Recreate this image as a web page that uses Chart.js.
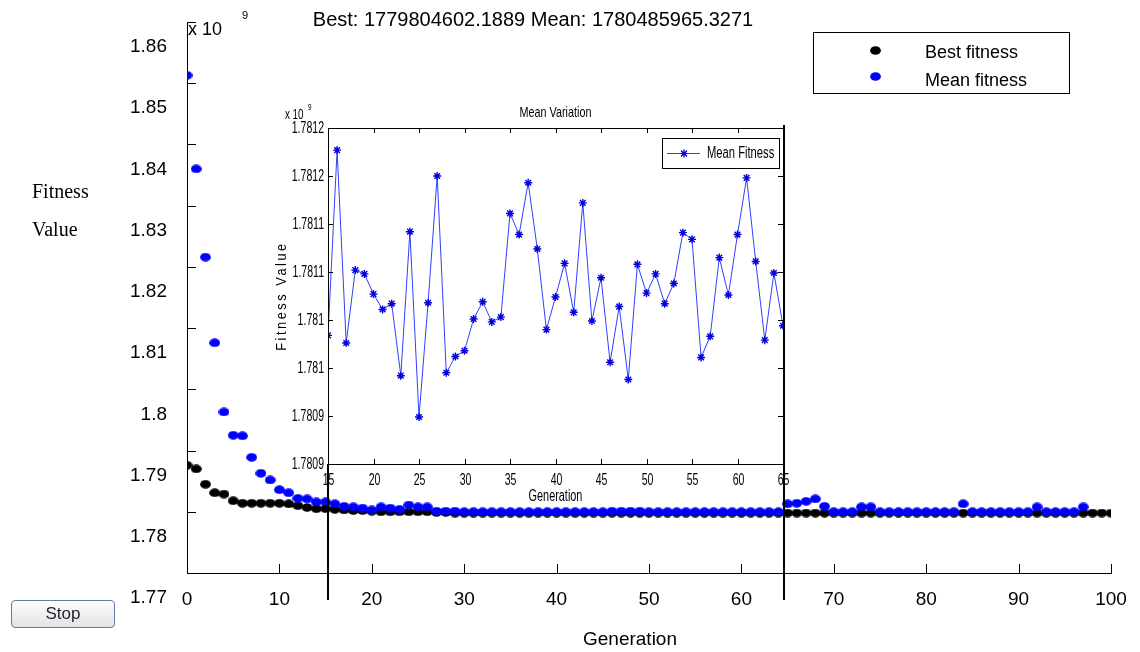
<!DOCTYPE html>
<html>
<head>
<meta charset="utf-8">
<script src="https://cdn.jsdelivr.net/npm/chart.js@4.4.1/dist/chart.umd.min.js"></script>
<style>
    body { margin: 0; background: #fff; }
    #wrap { position: relative; width: 1140px; height: 652px; overflow: hidden; }
    #main { position: absolute; left: 0; top: 0; }
    #inset { position: absolute; left: 260px; top: 100px; }
    #stop {
        position: absolute; left: 11px; top: 600px; width: 104px; height: 28px;
        border: 1px solid #5b7fa9; border-radius: 4px; padding: 0;
        background: linear-gradient(#fefefe, #e2e2e2);
        font: 17px 'Liberation Sans', Arial, sans-serif; color: #2a2030;
    }
</style>
</head>
<body>
<div id="wrap">
    <canvas id="main" width="1140" height="652"></canvas>
    <canvas id="inset" width="535" height="505"></canvas>
    <button id="stop">Stop</button>
</div>
<script>
'use strict';

//MAIN PLOT DATA (values in units of 10^9)
let titleText = 'Best: 1779804602.1889 Mean: 1780485965.3271';
let firstGeneration = 0;
let bestFitness = [
    1.7876, 1.7870, 1.7845, 1.7831, 1.7829, 1.7818, 1.7814, 1.7814, 1.7814, 1.7814,
    1.7814, 1.7813, 1.7810, 1.7807, 1.7805, 1.7805, 1.7804, 1.7803, 1.7802, 1.7802,
    1.7801, 1.7800, 1.7800, 1.7800, 1.7800, 1.7800, 1.7800, 1.7799, 1.7799, 1.7798,
    1.7798, 1.7798, 1.7798, 1.7798, 1.7798, 1.7798, 1.7798, 1.7798, 1.7798, 1.7798,
    1.7798, 1.7798, 1.7798, 1.7798, 1.7798, 1.7798, 1.7798, 1.7798, 1.7798, 1.7798,
    1.7798, 1.7798, 1.7798, 1.7798, 1.7798, 1.7798, 1.7798, 1.7798, 1.7798, 1.7798,
    1.7798, 1.7798, 1.7798, 1.7798, 1.7798, 1.7798, 1.7798, 1.7798, 1.7798, 1.7798,
    1.7798, 1.7798, 1.7798, 1.7798, 1.7798, 1.7798, 1.7798, 1.7798, 1.7798, 1.7798,
    1.7798, 1.7798, 1.7798, 1.7798, 1.7798, 1.7798, 1.7798, 1.7798, 1.7798, 1.7798,
    1.7798, 1.7798, 1.7798, 1.7798, 1.7798, 1.7798, 1.7798, 1.7798, 1.7798, 1.7798,
    1.7798
];
let meanFitness = [
    1.8513, 1.8360, 1.8216, 1.8076, 1.7963, 1.7925, 1.7924, 1.7889, 1.7863, 1.7852,
    1.7836, 1.7831, 1.7822, 1.7821, 1.7816, 1.7816, 1.7813, 1.7809, 1.7808, 1.7806,
    1.7803, 1.7808, 1.7806, 1.7804, 1.7811, 1.7808, 1.7808, 1.7801, 1.7801, 1.7801,
    1.7800, 1.7800, 1.7800, 1.7800, 1.7800, 1.7800, 1.7800, 1.7800, 1.7800, 1.7800,
    1.7800, 1.7800, 1.7800, 1.7800, 1.7800, 1.7800, 1.7801, 1.7801, 1.7801, 1.7801,
    1.7800, 1.7800, 1.7800, 1.7800, 1.7800, 1.7800, 1.7800, 1.7800, 1.7800, 1.7800,
    1.7800, 1.7800, 1.7800, 1.7800, 1.7800, 1.7813, 1.7814, 1.7817, 1.7821, 1.7809,
    1.7800, 1.7800, 1.7800, 1.7808, 1.7808, 1.7800, 1.7800, 1.7800, 1.7800, 1.7800,
    1.7800, 1.7800, 1.7800, 1.7800, 1.7813, 1.7800, 1.7800, 1.7800, 1.7800, 1.7800,
    1.7800, 1.7800, 1.7808, 1.7800, 1.7800, 1.7800, 1.7800, 1.7808
];

//INSET DATA (Mean Variation, generations 15 - 65)
let insetFirstGeneration = 15;
let meanVariation = [
    1.780984, 1.781177, 1.780976, 1.781052, 1.781048, 1.781027, 1.781011, 1.781017, 1.780942, 1.781092,
    1.780899, 1.781018, 1.781150, 1.780945, 1.780962, 1.780968, 1.781001, 1.781019, 1.780998, 1.781003,
    1.781111, 1.781089, 1.781143, 1.781074, 1.780990, 1.781024, 1.781059, 1.781008, 1.781122, 1.780999,
    1.781044, 1.780956, 1.781014, 1.780938, 1.781058, 1.781028, 1.781048, 1.781017, 1.781038, 1.781091,
    1.781084, 1.780961, 1.780983, 1.781065, 1.781026, 1.781089, 1.781148, 1.781061, 1.780979, 1.781049,
    1.780994
];
let insetYLabels = ['1.7809', '1.7809', '1.781', '1.781', '1.7811', '1.7811', '1.7812', '1.7812'];

let sansFont = "'Liberation Sans', Arial, sans-serif";
Chart.defaults.font.family = sansFont;
Chart.defaults.color = '#000';

// ellipse marker like the matlab dots
function dotImage(color) {
    let c = document.createElement('canvas');
    c.width = 11;
    c.height = 9;
    let g = c.getContext('2d');
    g.fillStyle = color;
    g.beginPath();
    g.ellipse(5.5, 4.5, 5.4, 4.3, 0, 0, Math.PI * 2);
    g.fill();
    return c;
}
let blackDot = dotImage('#000000');
let blueDot = dotImage('#0000ff');

function line(ctx, x1, y1, x2, y2) {
    ctx.beginPath();
    ctx.moveTo(x1, y1);
    ctx.lineTo(x2, y2);
    ctx.stroke();
}

// squeezed text, the inset is a shrunk matlab figure
function narrowText(ctx, text, x, y, size, squeeze, align) {
    ctx.save();
    ctx.translate(x, y);
    ctx.scale(squeeze, 1);
    ctx.font = size + 'px ' + sansFont;
    ctx.textAlign = align;
    ctx.textBaseline = 'middle';
    ctx.fillText(text, 0, 0);
    ctx.restore();
}

function noScalePadding(s) {
    s.paddingLeft = 0;
    s.paddingRight = 0;
    s.paddingTop = 0;
    s.paddingBottom = 0;
}

let mainDecor = {
    id: 'mainDecor',
    afterDraw(chart) {
        let ctx = chart.ctx;
        let a = chart.chartArea;
        let xs = chart.scales.x, ys = chart.scales.y;
        ctx.save();
        ctx.strokeStyle = '#000';
        ctx.lineWidth = 1;
        //inward ticks
        ys.ticks.forEach(function (t) {
            let py = Math.round(ys.getPixelForValue(t.value)) + 0.5;
            line(ctx, a.left, py, a.left + 9, py);
        });
        xs.ticks.forEach(function (t) {
            let px = Math.round(xs.getPixelForValue(t.value)) + 0.5;
            line(ctx, px, a.bottom, px, a.bottom - 9);
        });

        ctx.fillStyle = '#000';
        ctx.textBaseline = 'middle';
        ctx.font = '20px ' + sansFont;
        ctx.textAlign = 'center';
        ctx.fillText(titleText, 533, 20);
        ctx.font = '19px ' + sansFont;
        ctx.fillText('Generation', 630, 640);

        ctx.textAlign = 'left';
        ctx.font = '18px ' + sansFont;
        ctx.fillText('x 10', a.left + 1, 30);
        ctx.font = '11px ' + sansFont;
        ctx.fillText('9', a.left + 55, 16);

        ctx.font = '20px "Liberation Serif", "Times New Roman", serif';
        ctx.fillText('Fitness', 32, 193);
        ctx.fillText('Value', 32, 231);

        //legend
        ctx.strokeRect(813.5, 32.5, 256, 61);
        ctx.drawImage(blackDot, 870, 46);
        ctx.drawImage(blueDot, 870, 72);
        ctx.font = '18px ' + sansFont;
        ctx.fillText('Best fitness', 925, 53);
        ctx.fillText('Mean fitness', 925, 81);
        ctx.restore();
    }
};

new Chart(document.getElementById('main'), {
    type: 'scatter',
    data: {
        datasets: [
            {
                label: 'Best fitness',
                data: bestFitness.map(function (v, i) { return {x: firstGeneration + i, y: v}; }),
                pointStyle: blackDot,
                pointRadius: 5,
                order: 2
            },
            {
                label: 'Mean fitness',
                data: meanFitness.map(function (v, i) { return {x: firstGeneration + i, y: v}; }),
                pointStyle: blueDot,
                pointRadius: 5,
                order: 1
            }
        ]
    },
    options: {
        responsive: false,
        animation: false,
        events: [],
        layout: {padding: {left: 0, top: 22, right: 29, bottom: 0}},
        plugins: {legend: {display: false}, title: {display: false}, tooltip: {enabled: false}},
        scales: {
            x: {
                type: 'linear', min: 0, max: 100,
                grid: {display: false, drawTicks: false},
                border: {display: true, color: '#000', width: 1},
                ticks: {stepSize: 10, padding: 15, maxRotation: 0, font: {size: 19}, color: '#000'},
                afterFit: function (s) { s.height = 79; noScalePadding(s); }
            },
            y: {
                type: 'linear', min: 1.77, max: 1.86,
                grid: {display: false, drawTicks: false},
                border: {display: true, color: '#000', width: 1},
                ticks: {
                    stepSize: 0.01, padding: 20, labelOffset: 25, font: {size: 19}, color: '#000',
                    callback: function (v) { return String(+v.toFixed(2)); }
                },
                afterFit: function (s) { s.width = 187; noScalePadding(s); }
            }
        }
    },
    plugins: [mainDecor]
});

let insetDecor = {
    id: 'insetDecor',
    beforeDatasetsDraw(chart) {
        let a = chart.chartArea;
        chart.ctx.save();
        chart.ctx.fillStyle = '#fff';
        chart.ctx.fillRect(a.left, a.top, a.width, a.height);
        chart.ctx.restore();
    },
    afterDraw(chart) {
        let ctx = chart.ctx;
        let a = chart.chartArea;
        let xs = chart.scales.x, ys = chart.scales.y;
        let cx = (a.left + a.right) / 2;
        ctx.save();
        ctx.strokeStyle = '#000';
        ctx.fillStyle = '#000';
        ctx.lineWidth = 1;
        ctx.strokeRect(Math.round(a.left) + 0.5, Math.round(a.top) + 0.5, Math.round(a.width), Math.round(a.height));
        xs.ticks.forEach(function (t) {
            let px = Math.round(xs.getPixelForValue(t.value)) + 0.5;
            line(ctx, px, a.bottom, px, a.bottom - 5);
            line(ctx, px, a.top, px, a.top + 5);
            narrowText(ctx, String(t.value), px, a.bottom + 16, 17, 0.62, 'center');
        });
        ys.ticks.forEach(function (t, i) {
            let py = Math.round(ys.getPixelForValue(t.value)) + 0.5;
            line(ctx, a.left, py, a.left + 5, py);
            line(ctx, a.right, py, a.right - 5, py);
            narrowText(ctx, insetYLabels[i], a.left - 4, py, 17, 0.62, 'right');
        });

        // long vertical marks at generation 15 and 65
        ctx.lineWidth = 2;
        let lx = xs.getPixelForValue(15), rx = xs.getPixelForValue(65);
        line(ctx, lx, a.bottom, lx, 500);
        line(ctx, rx + 1, a.top - 3, rx + 1, 500);

        narrowText(ctx, 'Mean Variation', cx, a.top - 15, 15, 0.72, 'center');
        narrowText(ctx, 'Generation', cx, a.bottom + 33, 16, 0.68, 'center');
        narrowText(ctx, 'x 10', a.left - 43, a.top - 13, 14, 0.7, 'left');
        narrowText(ctx, '9', a.left - 20, a.top - 20, 9, 0.7, 'left');

        ctx.save();
        ctx.translate(a.left - 46, (a.top + a.bottom) / 2);
        ctx.rotate(-Math.PI / 2);
        ctx.letterSpacing = '3px';
        narrowText(ctx, 'Fitness Value', 0, 0, 15, 0.85, 'center');
        ctx.restore();

        //legend
        let bx = Math.round(a.right) - 121, by = Math.round(a.top) + 10;
        ctx.lineWidth = 1;
        ctx.strokeRect(bx + 0.5, by + 0.5, 117, 30);
        ctx.strokeStyle = '#3040ff';
        line(ctx, bx + 5, by + 15.5, bx + 38, by + 15.5);
        ctx.strokeStyle = '#0000dd';
        ctx.lineWidth = 1.3;
        let sx = bx + 22, sy = by + 15.5;
        line(ctx, sx, sy - 4, sx, sy + 4);
        line(ctx, sx - 3, sy, sx + 3, sy);
        line(ctx, sx - 3, sy - 3, sx + 3, sy + 3);
        line(ctx, sx - 3, sy + 3, sx + 3, sy - 3);
        narrowText(ctx, 'Mean Fitness', bx + 45, by + 16, 16, 0.7, 'left');
        ctx.restore();
    }
};

new Chart(document.getElementById('inset'), {
    type: 'line',
    data: {
        datasets: [{
            label: 'Mean Fitness',
            data: meanVariation.map(function (v, i) { return {x: insetFirstGeneration + i, y: v}; }),
            borderColor: '#3040ff',
            borderWidth: 1,
            pointStyle: 'star',
            pointRadius: 4,
            pointBorderColor: '#0000dd',
            pointBackgroundColor: '#0000dd',
            pointBorderWidth: 1.4,
            tension: 0,
            fill: false
        }]
    },
    options: {
        responsive: false,
        animation: false,
        events: [],
        layout: {padding: {left: 0, top: 28, right: 12, bottom: 0}},
        plugins: {legend: {display: false}, title: {display: false}, tooltip: {enabled: false}},
        scales: {
            x: {
                type: 'linear', min: 15, max: 65,
                grid: {display: false, drawTicks: false},
                border: {display: false},
                ticks: {stepSize: 5, display: false},
                afterFit: function (s) { s.height = 141; noScalePadding(s); }
            },
            y: {
                type: 'linear', min: 1.78085, max: 1.78120,
                grid: {display: false, drawTicks: false},
                border: {display: false},
                ticks: {stepSize: 0.00005, display: false},
                afterFit: function (s) { s.width = 68; noScalePadding(s); }
            }
        }
    },
    plugins: [insetDecor]
});
</script>
</body>
</html>
